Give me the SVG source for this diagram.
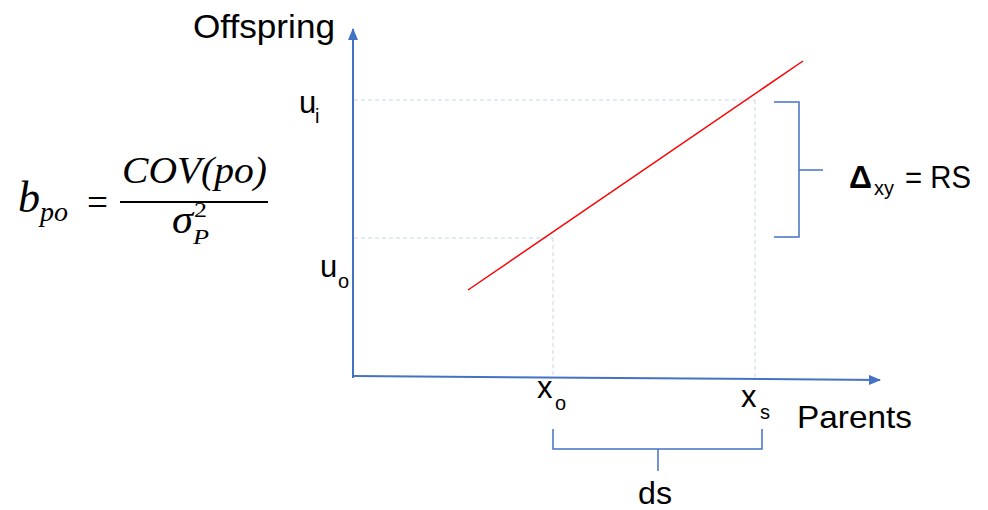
<svg xmlns="http://www.w3.org/2000/svg" width="988" height="510" viewBox="0 0 988 510">
<defs>
<marker id="arr" viewBox="0 0 12 10" refX="11" refY="5" markerWidth="12" markerHeight="10" markerUnits="userSpaceOnUse" orient="auto">
<path d="M0,0 L12,5 L0,10 Z" fill="#4472C4"/>
</marker>
<style>
.t{font-family:"Liberation Sans",Arial,sans-serif;fill:#000}
.m{font-family:"Liberation Serif","DejaVu Serif",serif;font-style:italic;fill:#000}
.axis{stroke:#4472C4;stroke-width:2;fill:none}
.br{stroke:#4472C4;stroke-width:1.5;fill:none}
.dash{stroke:#C9D6EE;stroke-width:1;stroke-dasharray:4 3;fill:none}
</style>
</defs>
<rect width="988" height="510" fill="#fff"/>
<g id="connectors">
<line class="dash" x1="354" y1="100" x2="755" y2="100"/>
<line class="dash" x1="354" y1="238" x2="553" y2="238"/>
<line class="dash" x1="553" y1="238" x2="553" y2="377"/>
<line class="dash" x1="755" y1="100" x2="755" y2="378"/>
<line class="axis" x1="353" y1="378" x2="353" y2="29" marker-end="url(#arr)"/>
<line class="axis" x1="353" y1="376" x2="880" y2="380" marker-end="url(#arr)"/>
<line x1="468" y1="290" x2="803" y2="61" stroke="#FF0000" stroke-width="1.5"/>
<path class="br" d="M774,102 H799 V237 H774 M799,170 H823"/>
<path class="br" d="M553,429 V449 H762 V429 M658,449 V471"/>
</g>
<g id="formula">
<text class="m" x="18" y="212" font-size="44">b<tspan font-size="28" dy="9">po</tspan></text>
<text x="87" y="216" font-size="40" font-family="Liberation Serif,serif" textLength="21" lengthAdjust="spacingAndGlyphs">=</text>
<line x1="120" y1="202" x2="268" y2="202" stroke="#000" stroke-width="2"/>
<text class="m" x="122" y="183" font-size="38" textLength="145" lengthAdjust="spacingAndGlyphs">COV(po)</text>
<text class="m" x="172" y="233" font-size="40" textLength="21" lengthAdjust="spacingAndGlyphs">σ</text>
<text x="194" y="217" font-size="20" font-family="Liberation Serif,serif" textLength="13" lengthAdjust="spacingAndGlyphs">2</text>
<text class="m" x="193" y="244" font-size="20" textLength="16" lengthAdjust="spacingAndGlyphs">P</text>
</g>
<g id="label-offspring"><text class="t" x="193" y="38" font-size="33" textLength="142" lengthAdjust="spacingAndGlyphs">Offspring</text></g>
<g id="label-ui"><text class="t" x="299" y="113" font-size="31">u</text><text class="t" x="315" y="123" font-size="20">i</text></g>
<g id="label-uo"><text class="t" x="320" y="277" font-size="31">u</text><text class="t" x="338" y="288" font-size="20">o</text></g>
<g id="label-xo"><text class="t" x="537" y="398" font-size="31">x</text><text class="t" x="555" y="410" font-size="20">o</text></g>
<g id="label-xs"><text class="t" x="741" y="407" font-size="31">x</text><text class="t" x="760" y="419" font-size="20">s</text></g>
<g id="label-parents"><text class="t" x="797" y="428" font-size="32" textLength="115" lengthAdjust="spacingAndGlyphs">Parents</text></g>
<g id="label-ds"><text class="t" x="638" y="504" font-size="32" textLength="34" lengthAdjust="spacingAndGlyphs">ds</text></g>
<g id="label-rs"><text class="t" x="849" y="188" font-size="32" font-weight="bold">Δ</text><text class="t" x="874" y="195" font-size="20">xy</text><text class="t" x="905" y="188" font-size="32" textLength="66" lengthAdjust="spacingAndGlyphs">= RS</text></g>
</svg>
